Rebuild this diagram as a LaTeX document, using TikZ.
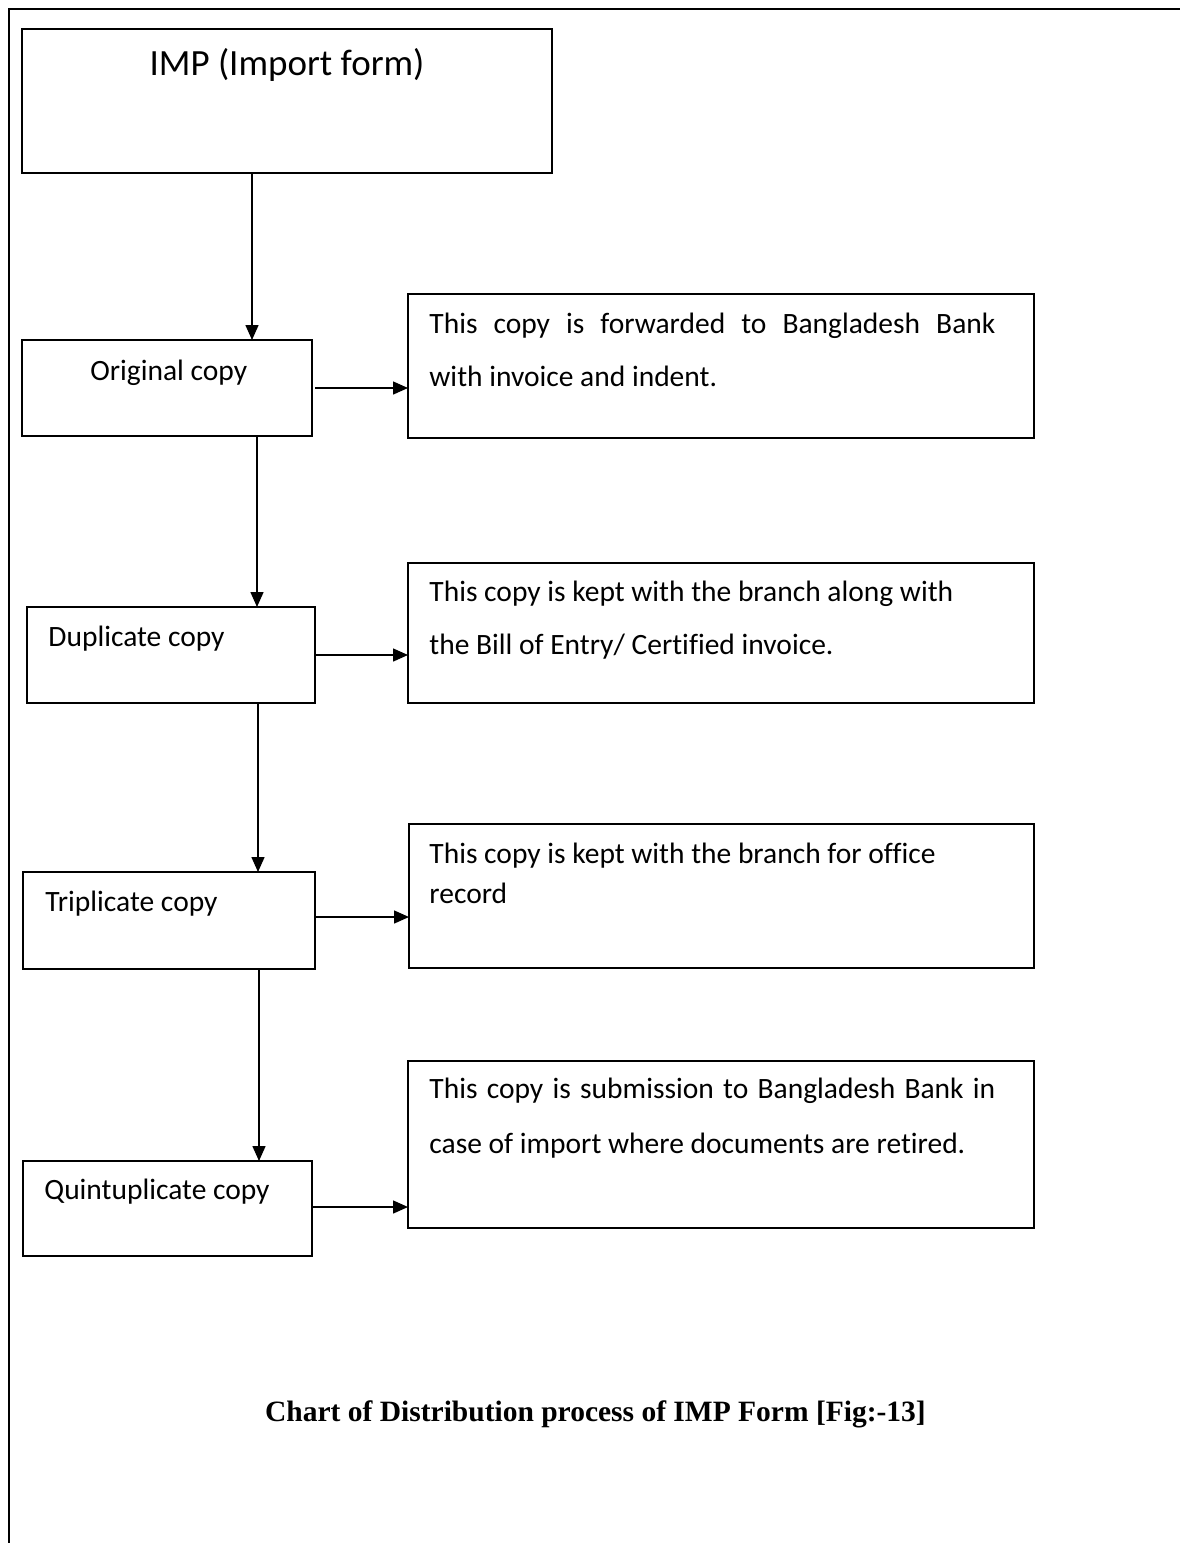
\documentclass[tikz,border=0pt]{standalone}
\usepackage{fontspec}
\setmainfont{Carlito}[Ligatures=NoCommon]
\newfontfamily\capfont{Liberation Serif}
\usetikzlibrary{arrows.meta}
\begin{document}
\begin{tikzpicture}[x=0.5pt,y=-0.5pt,
  boxst/.style={draw, line width=0.8pt, rectangle, inner sep=0pt, outer sep=0pt},
  txt/.style={anchor=base west, inner sep=0pt, font=\fontsize{14.75}{18}\selectfont},
  arr/.style={draw, line width=0.75pt, -{Triangle[length=7.5pt,width=6.5pt]}}]
\useasboundingbox (0,0) rectangle (1180,1543);
% outer frame
\draw[line width=0.9pt] (9,1543) -- (9,9) -- (1180,9);
% boxes
\node[boxst, minimum width=265pt, minimum height=72pt] (imp) at (287,101) {};
\node[boxst, minimum width=145pt, minimum height=48pt] (orig) at (167,388) {};
\node[boxst, minimum width=144pt, minimum height=48pt] (dup) at (171,655) {};
\node[boxst, minimum width=146pt, minimum height=48.5pt] (trip) at (169,920.5) {};
\node[boxst, minimum width=144.5pt, minimum height=47.5pt] (quint) at (167.5,1208.5) {};
\node[boxst, minimum width=313pt, minimum height=72pt] (r1) at (721,366) {};
\node[boxst, minimum width=313pt, minimum height=70pt] (r2) at (721,633) {};
\node[boxst, minimum width=312.5pt, minimum height=72pt] (r3) at (721.5,896) {};
\node[boxst, minimum width=313pt, minimum height=83.5pt] (r4) at (721,1144.5) {};
% texts
\node[anchor=base, inner sep=0pt, font=\fontsize{18.5}{22}\selectfont] (timp) at (287,75) {IMP (Import form)};
\node[txt] (torig) at (90,380) {Original copy};
\node[txt] (tdup) at (48,646) {Duplicate copy};
\node[txt] (ttrip) at (45,911) {Triplicate copy};
\node[txt] (tquint) at (44,1199) {Quintuplicate copy};
\node[txt] (t1a) at (429,333) {\makebox[283pt][s]{This copy is forwarded to Bangladesh Bank}};
\node[txt] (t1b) at (429,386) {with invoice and indent.};
\node[txt] (t2a) at (429,601) {This copy is kept with the branch along with};
\node[txt] (t2b) at (429,654) {the Bill of Entry/ Certified invoice.};
\node[txt] (t3a) at (429,863) {This copy is kept with the branch for office};
\node[txt] (t3b) at (429,903) {record};
\node[txt] (t4a) at (429,1098) {\makebox[283pt][s]{This copy is submission to Bangladesh Bank in}};
\node[txt] (t4b) at (429,1153) {case of import where documents are retired.};
\node[anchor=base, inner sep=0pt, font=\capfont\bfseries\fontsize{14.75}{18}\selectfont] (cap) at (595.5,1421) {Chart of Distribution process of IMP Form [Fig:-13]};
% connector coordinates
\coordinate (v1) at (252,0);
\coordinate (v2) at (257,0);
\coordinate (v3) at (258,0);
\coordinate (v4) at (259,0);
\coordinate (h1) at (0,388);
\coordinate (h2) at (0,655);
\coordinate (h3) at (0,917);
\coordinate (h4) at (0,1207);
% vertical arrows
\draw[arr] (imp.south -| v1) -- (orig.north -| v1);
\draw[arr] (orig.south -| v2) -- (dup.north -| v2);
\draw[arr] (dup.south -| v3) -- (trip.north -| v3);
\draw[arr] (trip.south -| v4) -- (quint.north -| v4);
% horizontal arrows
\draw[arr] ([xshift=1.5pt]orig.east |- h1) -- (r1.west |- h1);
\draw[arr] (dup.east |- h2) -- (r2.west |- h2);
\draw[arr] (trip.east |- h3) -- (r3.west |- h3);
\draw[arr] (quint.east |- h4) -- (r4.west |- h4);
\end{tikzpicture}
\end{document}
